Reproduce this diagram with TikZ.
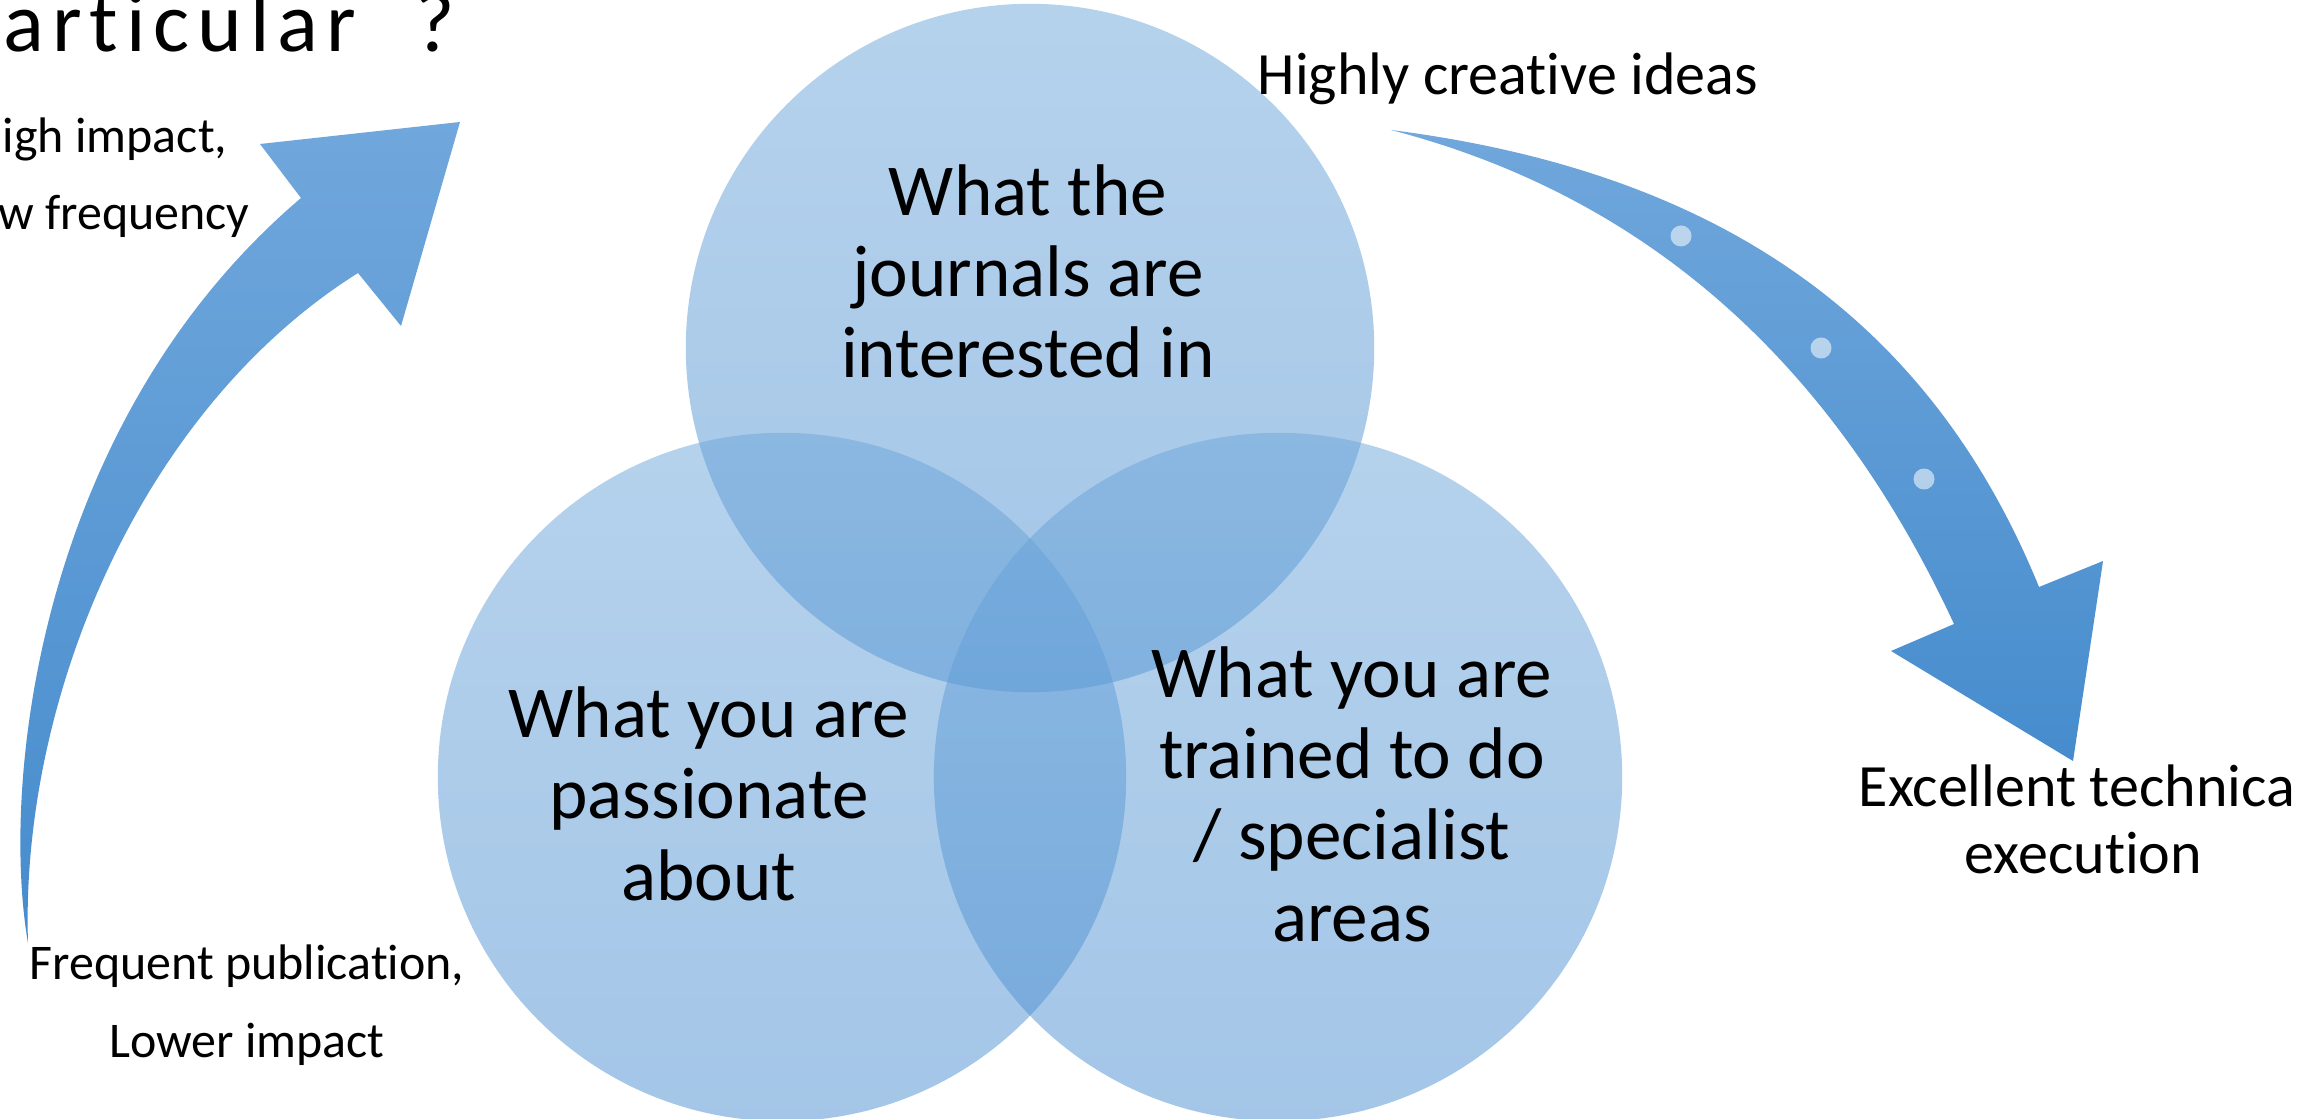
\documentclass[tikz,border=0pt]{standalone}
\usepackage{fontspec}
\setmainfont{Carlito}[Ligatures=NoCommon]
\definecolor{vennTop}{RGB}{109,167,219}
\definecolor{vennBot}{RGB}{73,141,209}
\definecolor{arrTop}{RGB}{112,167,220}
\definecolor{arrBot}{RGB}{70,140,205}
\tikzset{
  venn/.style={circle, minimum size=6.88cm, inner sep=0pt, draw=none,
    top color=vennTop, bottom color=vennBot, fill opacity=0.5},
  circtext/.style={align=center, inner sep=0pt, font=\fontsize{20.8}{23.05}\selectfont},
  bigtext/.style={align=center, inner sep=0pt, font=\fontsize{17.07}{18.8}\selectfont},
  smalltext/.style={align=center, inner sep=0pt, font=\fontsize{14.2}{21.9}\selectfont},
  titletext/.style={inner sep=0pt, font=\fontsize{24.2}{27}\selectfont},
  bluearrow/.style={top color=arrTop, bottom color=arrBot, draw=none},
  spot/.style={fill=white, fill opacity=0.55, draw=none}
}
\begin{document}
\begin{tikzpicture}[x=0.01cm,y=-0.01cm]
\useasboundingbox (0,0) rectangle (2304,1119);
\fill[white] (0,0) rectangle (2304,1119);
\clip (0,0) rectangle (2304,1119);

% Venn circles
\node[venn] (journals) at (1030,348) {};
\node[venn] (passion) at (782,777) {};
\node[venn] (trained) at (1278,777) {};

% left curved arrow
\shade[bluearrow] (28,943) .. controls (0,780) and (40,420) .. (301,198)
  -- (260,144) -- (460,122) -- (401,326) -- (358,273)
  .. controls (140,410) and (20,700) .. (28,943) -- cycle;

% right curved arrow
\shade[bluearrow] (1391,130) .. controls (1720,172) and (1930,320) .. (2039,587)
  -- (2103,561) -- (2073,761) -- (1891,651) -- (1954,624)
  .. controls (1850,400) and (1680,205) .. (1391,130) -- cycle;
\fill[spot] (1681,236) circle[radius=0.105cm];
\fill[spot] (1821,348) circle[radius=0.105cm];
\fill[spot] (1924,479) circle[radius=0.105cm];

% texts (anchor base = baseline of the last line)
\node[circtext, anchor=base] (tj) at (1028,378) {What the\\journals are\\interested in};
\node[circtext, anchor=base] (tp) at (709,900) {What you are\\passionate\\about};
\node[circtext, anchor=base] (tt) at (1352,941) {What you are\\trained to do\\/ specialist\\areas};

\node[bigtext, anchor=base west] (ideas) at (1257,95) {Highly creative ideas};
\node[bigtext, anchor=base west, align=left] (exec) at (1858,873) {Excellent technica\\\hspace*{1.06cm}execution};
\node[smalltext, anchor=base] (freq) at (247,1057) {Frequent publication,\\Lower impact};
\node[smalltext, anchor=base east, align=right] (high) at (250,230) {igh impact,\hspace*{0.22cm}\\w frequency};
\node[titletext, anchor=base west] (title) at (3,52) {\addfontfeature{LetterSpace=9.3}articular\hspace{0.59cm}?};
\end{tikzpicture}
\end{document}
